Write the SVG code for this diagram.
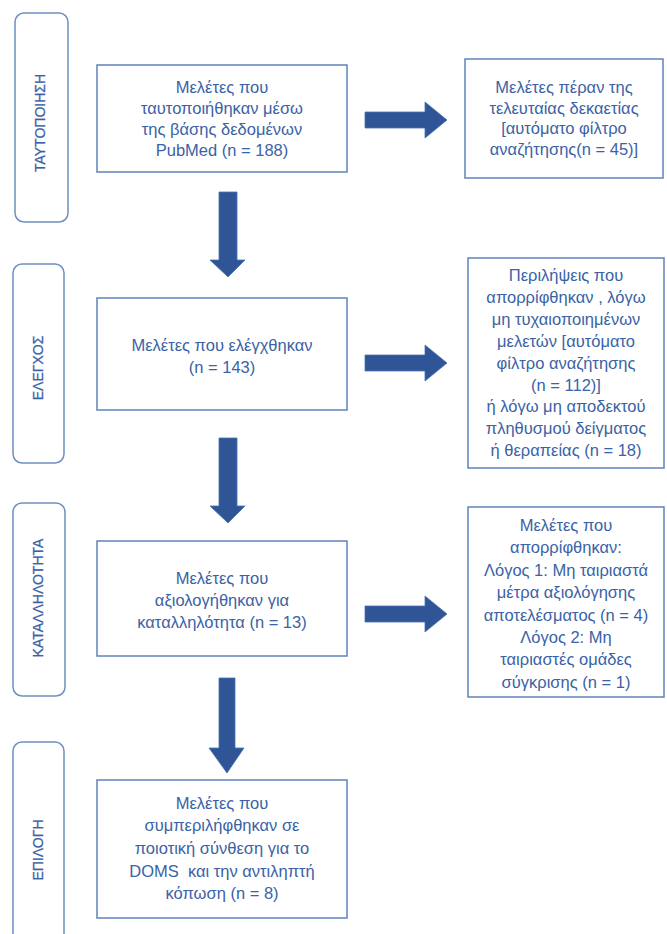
<svg xmlns="http://www.w3.org/2000/svg" width="667" height="934" viewBox="0 0 667 934">
<defs>
<style>
.stage{fill:#fff;stroke:#6E8FC0;stroke-width:1.5}
.box{fill:#fff;stroke:#5F83BA;stroke-width:1.5}
.t{font-family:"Liberation Sans","Noto Sans",sans-serif;font-size:16.5px;fill:#3A62A6;text-anchor:middle}
.lab{font-family:"Liberation Sans","Noto Sans",sans-serif;font-size:14px;fill:#3A62A6;text-anchor:middle;stroke:#3A62A6;stroke-width:0.25}
.arr{fill:#2F5597;stroke:#4A72B0;stroke-width:0.8}
</style>
</defs>
<rect width="667" height="934" fill="#fff"/>
<g id="stage-identification">
<rect class="stage" x="15" y="13" width="53" height="209" rx="9"/>
<text class="lab" transform="translate(45,123) rotate(-90)">ΤΑΥΤΟΠΟΙΗΣΗ</text>
</g>
<g id="stage-screening">
<rect class="stage" x="13" y="264" width="51" height="199" rx="9"/>
<text class="lab" transform="translate(43,368) rotate(-90)">ΕΛΕΓΧΟΣ</text>
</g>
<g id="stage-eligibility">
<rect class="stage" x="13" y="503" width="52" height="193" rx="9"/>
<text class="lab" transform="translate(43,598) rotate(-90)">ΚΑΤΑΛΛΗΛΟΤΗΤΑ</text>
</g>
<g id="stage-inclusion">
<rect class="stage" x="13" y="742" width="51" height="210" rx="9"/>
<text class="lab" transform="translate(43,850) rotate(-90)">ΕΠΙΛΟΓΗ</text>
</g>
<g id="box-identified">
<rect class="box" x="97" y="65" width="250" height="107"/>
<text class="t" x="222" y="93">Μελέτες που</text>
<text class="t" x="222" y="114">ταυτοποιήθηκαν μέσω</text>
<text class="t" x="222" y="135">της βάσης δεδομένων</text>
<text class="t" x="222" y="156">PubMed (n = 188)</text>
</g>
<g id="box-excluded-date">
<rect class="box" x="465" y="59" width="198" height="119"/>
<text class="t" x="564" y="93">Μελέτες πέραν της</text>
<text class="t" x="564" y="114">τελευταίας δεκαετίας</text>
<text class="t" x="564" y="134">[αυτόματο φίλτρο</text>
<text class="t" x="564" y="155">αναζήτησης(n = 45)]</text>
</g>
<g id="box-screened">
<rect class="box" x="97" y="298" width="250" height="112"/>
<text class="t" x="222" y="351">Μελέτες που ελέγχθηκαν</text>
<text class="t" x="222" y="373">(n = 143)</text>
</g>
<g id="box-excluded-abstracts">
<rect class="box" x="468" y="258" width="196" height="210"/>
<text class="t" x="566" y="281">Περιλήψεις που</text>
<text class="t" x="566" y="303">απορρίφθηκαν , λόγω</text>
<text class="t" x="566" y="325">μη τυχαιοποιημένων</text>
<text class="t" x="566" y="347">μελετών [αυτόματο</text>
<text class="t" x="566" y="369">φίλτρο αναζήτησης</text>
<text class="t" x="566" y="391">(n = 112)]</text>
<text class="t" x="566" y="412">ή λόγω μη αποδεκτού</text>
<text class="t" x="566" y="434">πληθυσμού δείγματος</text>
<text class="t" x="566" y="456">ή θεραπείας (n = 18)</text>
</g>
<g id="box-eligibility">
<rect class="box" x="97" y="541" width="250" height="115"/>
<text class="t" x="222" y="584">Μελέτες που</text>
<text class="t" x="222" y="606">αξιολογήθηκαν για</text>
<text class="t" x="222" y="628">καταλληλότητα (n = 13)</text>
</g>
<g id="box-excluded-fulltext">
<rect class="box" x="468" y="507" width="196" height="190"/>
<text class="t" x="566" y="531">Μελέτες που</text>
<text class="t" x="566" y="553">απορρίφθηκαν:</text>
<text class="t" x="566" y="576">Λόγος 1: Μη ταιριαστά</text>
<text class="t" x="566" y="598">μέτρα αξιολόγησης</text>
<text class="t" x="566" y="621">αποτελέσματος (n = 4)</text>
<text class="t" x="566" y="643">Λόγος 2: Μη</text>
<text class="t" x="566" y="665">ταιριαστές ομάδες</text>
<text class="t" x="566" y="688">σύγκρισης (n = 1)</text>
</g>
<g id="box-included">
<rect class="box" x="97" y="780" width="250" height="138"/>
<text class="t" x="222" y="809">Μελέτες που</text>
<text class="t" x="222" y="831">συμπεριλήφθηκαν σε</text>
<text class="t" x="222" y="854">ποιοτική σύνθεση για το</text>
<text class="t" x="222" y="877" xml:space="preserve">DOMS  και την αντιληπτή</text>
<text class="t" x="222" y="899">κόπωση (n = 8)</text>
</g>
<g id="connectors">
<path class="arr" d="M219,192 H237 V260 H245 L228,277 L210,260 H219 Z"/>
<path class="arr" d="M219,438 H237 V506 H245 L228,523 L210,506 H219 Z"/>
<path class="arr" d="M219,678 H235 V748 H244 L227,773 L209,748 H219 Z"/>
<path class="arr" d="M365,112 H425 V102 L447,120 L425,138 V128 H365 Z"/>
<path class="arr" d="M365,355 H425 V345 L447,363 L425,381 V371 H365 Z"/>
<path class="arr" d="M365,606 H425 V596 L447,614 L425,632 V622 H365 Z"/>
</g>
</svg>
